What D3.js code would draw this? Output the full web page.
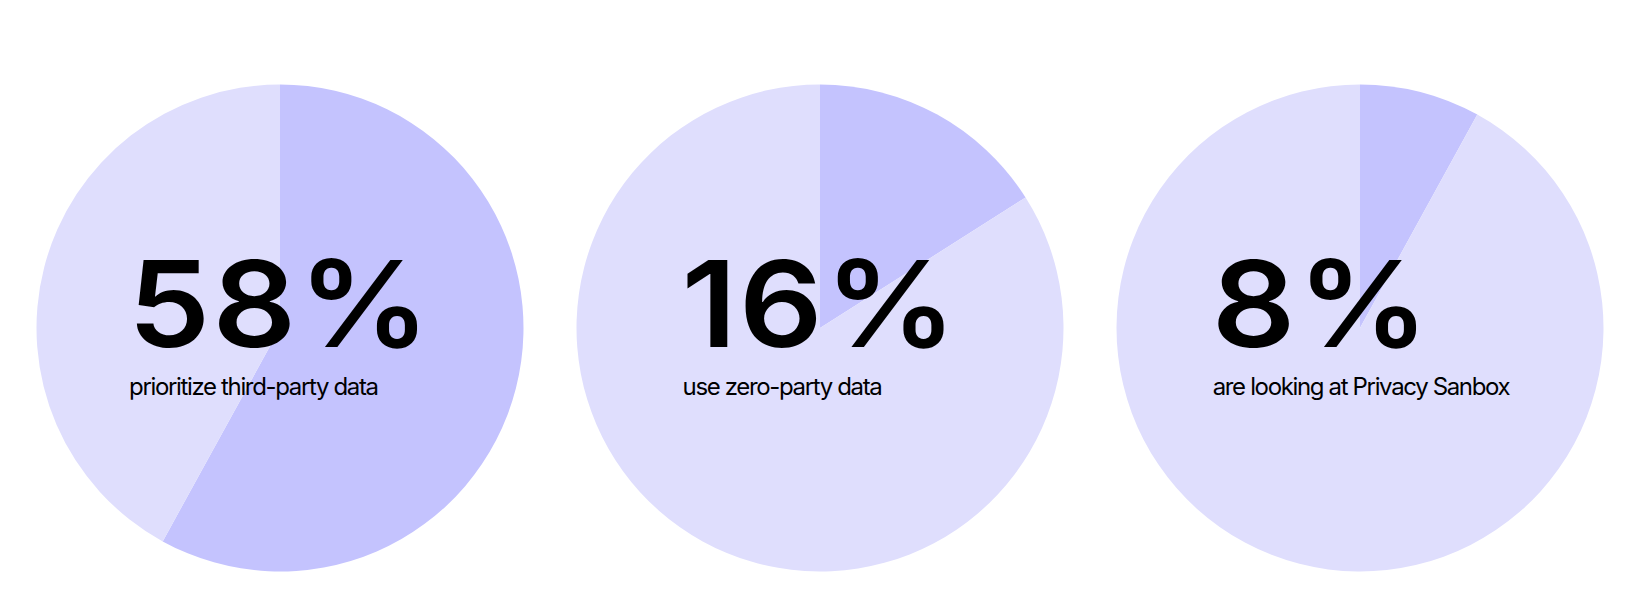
<!DOCTYPE html>
<html>
<head>
<meta charset="utf-8">
<script src="https://cdn.jsdelivr.net/npm/d3@7"></script>
<style>
  html, body { margin: 0; padding: 0; background: #ffffff; }
  svg { display: block; }
</style>
</head>
<body>
<svg id="chart" width="1634" height="612"></svg>
<script>
// ---- data ----
const categories = ["prioritize third-party data", "use zero-party data", "are looking at Privacy Sanbox"];
const percentages = [58, 16, 8];
const valueLabels = ["58%", "16%", "8%"];

// ---- layout / style ----
const W = 1634, H = 612;
const cy = 328, radius = 243.5;
const darkColor = "#c4c3fe", lightColor = "#dfdefd";
const numFont = "Inter, 'Noto Sans', sans-serif";
const labelFont = "Inter, 'Noto Sans', sans-serif";
const numSize = 120, numStretch = 1.09;
const labelSize = 24;

const svg = d3.select("#chart");
const x = d3.scalePoint().domain(d3.range(percentages.length)).range([280, 1360]);
const pie = d3.pie().sort(null).value(d => d);
const arc = d3.arc().innerRadius(0).outerRadius(radius);

percentages.forEach((p, i) => {
  const g = svg.append("g").attr("transform", `translate(${x(i)},${cy})`);
  g.selectAll("path")
    .data(pie([p, 100 - p]))
    .join("path")
    .attr("d", arc)
    .attr("fill", (d, j) => j === 0 ? darkColor : lightColor);

  const num = g.append("text")
    .attr("y", 19)
    .attr("font-family", numFont)
    .attr("font-weight", 600)
    .attr("font-size", numSize)
    .attr("letter-spacing", 2)
    .attr("fill", "#000")
    .text(valueLabels[i]);
  const nw = num.node().getComputedTextLength() * numStretch;
  num.attr("textLength", nw).attr("lengthAdjust", "spacingAndGlyphs");

  const lab = g.append("text")
    .attr("y", 67)
    .attr("font-family", labelFont)
    .attr("font-weight", 400)
    .attr("font-size", labelSize)
    .attr("letter-spacing", -1.35)
    .attr("fill", "#000")
    .text(categories[i]);
  const lw = lab.node().getComputedTextLength();

  const left = -Math.max(nw, lw) / 2;
  num.attr("x", left);
  lab.attr("x", left + 1);
});
</script>
</body>
</html>
